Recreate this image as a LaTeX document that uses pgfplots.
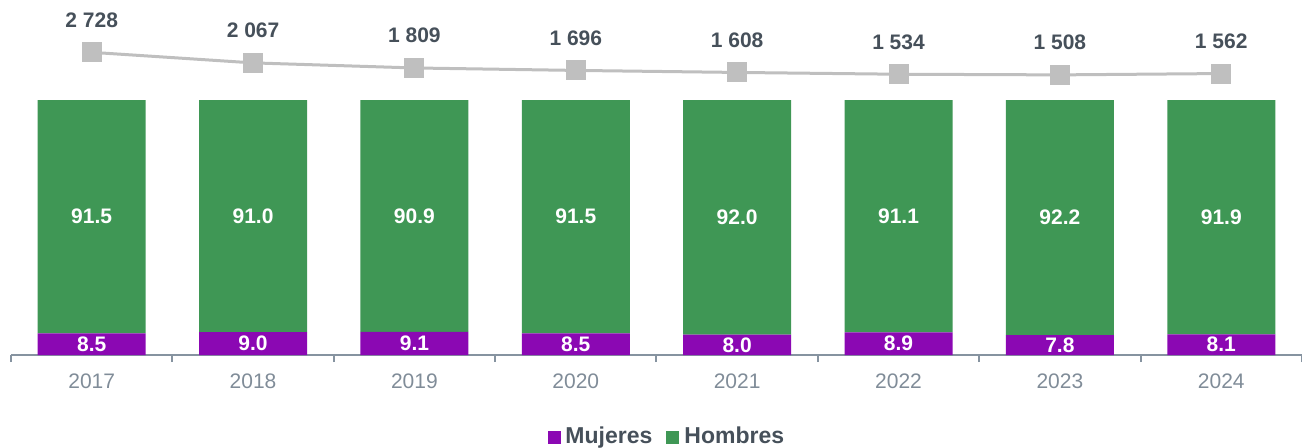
\documentclass[border=0pt]{standalone}
\usepackage{pgfplots}
\pgfplotsset{compat=1.18}
\usepackage{pgfplotstable}
\usepackage{fontspec}
\setmainfont{Liberation Sans}
\definecolor{mujc}{HTML}{8B08B3}
\definecolor{homc}{HTML}{3F9755}
\definecolor{linec}{HTML}{BFBFBF}
\definecolor{axc}{HTML}{8693A0}
\definecolor{tickc}{HTML}{808C98}
\definecolor{darkc}{HTML}{46505A}

\pgfplotstableread{
x mujeres hombres
0 8.5 91.5
1 9.0 91.0
2 9.1 90.9
3 8.5 91.5
4 8.0 92.0
5 8.9 91.1
6 7.8 92.2
7 8.1 91.9
}\sexdata

\begin{document}
\begin{tikzpicture}
\useasboundingbox (0,0) rectangle (1302bp,448bp);
\begin{axis}[
  at={(11bp,93bp)}, anchor=south west,
  scale only axis, width=1291bp, height=334bp,
  xmin=-0.5, xmax=7.5, ymin=0, ymax=131, enlargelimits=false,
  clip=false,
  ybar stacked, bar width=108bp,
  axis x line*=bottom, axis y line=none,
  x axis line style={draw=axc, line width=2bp},
  xtick={0,...,7},
  xticklabels={2017,2018,2019,2020,2021,2022,2023,2024},
  minor xtick={-0.5,0.5,...,7.5},
  tick align=outside,
  major tick length=0pt, minor tick length=7bp,
  every tick/.style={draw=axc, line width=2bp},
  xticklabel style={font=\fontsize{21bp}{25bp}\selectfont, text=tickc, inner sep=0pt, yshift=-19bp},
  legend style={at={(axis description cs:0.508,-0.2425)}, anchor=center, draw=none, fill=none,
    font=\fontsize{23bp}{27bp}\selectfont\bfseries, text=darkc,
    /tikz/every odd column/.append style={column sep=3bp},
    /tikz/every even column/.append style={column sep=12bp}},
  legend columns=2,
  legend image code/.code={\fill[#1] (0bp,-8bp) rectangle (13bp,5bp);},
  nodes near coords={\pgfmathprintnumber[fixed,fixed zerofill,precision=1,assume math mode=true]{\pgfplotspointmeta}},
  every node near coord/.append style={font=\fontsize{21bp}{25bp}\selectfont\bfseries, text=white, anchor=center},
]
\addplot[fill=mujc, draw=none, point meta={\thisrow{mujeres}}]
  table[x=x, y=mujeres] {\sexdata};
\addlegendentry{Mujeres}
\addplot[fill=homc, draw=none, point meta={\thisrow{hombres}}]
  table[x=x, y=hombres] {\sexdata};
\addlegendentry{Hombres}
\end{axis}
\begin{axis}[
  at={(11bp,93bp)}, anchor=south west,
  scale only axis, width=1291bp, height=334bp,
  xmin=-0.5, xmax=7.5, ymode=log, ymin=0.957, ymax=6218, enlargelimits=false,
  hide axis, clip=false,
]
\addplot[color=linec, line width=3bp, mark=square*, mark size=9.5bp,
  mark options={fill=linec, draw=linec, line width=0pt},
  point meta=explicit,
  nodes near coords={\pgfmathprintnumber[int detect,1000 sep={\ },assume math mode=true]{\pgfplotspointmeta}},
  every node near coord/.append style={font=\fontsize{21bp}{25bp}\selectfont\bfseries, text=darkc, anchor=south, inner sep=0pt, yshift=25bp}]
  coordinates {(0,2728) [2728] (1,2067) [2067] (2,1809) [1809] (3,1696) [1696]
               (4,1608) [1608] (5,1534) [1534] (6,1508) [1508] (7,1562) [1562]};
\end{axis}
\end{tikzpicture}
\end{document}
